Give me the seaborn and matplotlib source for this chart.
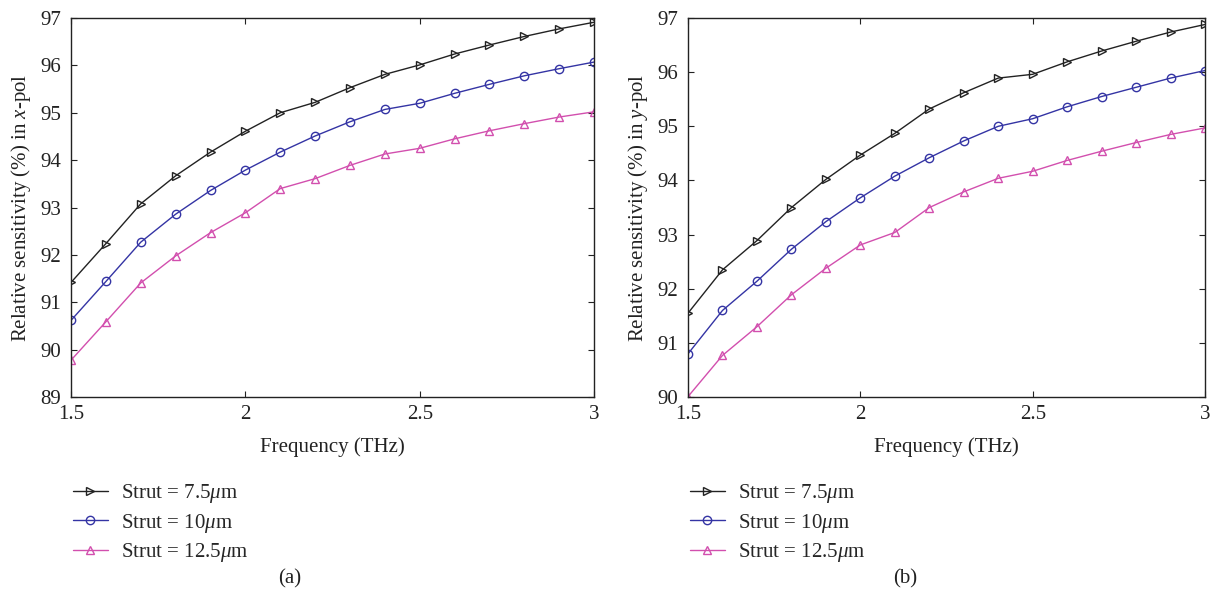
import numpy as np
import pandas as pd
import matplotlib
matplotlib.use("Agg")
import matplotlib.pyplot as plt
import seaborn as sns

freq = [1.5, 1.6, 1.7, 1.8, 1.9, 2.0, 2.1, 2.2, 2.3, 2.4, 2.5, 2.6, 2.7, 2.8, 2.9, 3.0]

# (a) x-pol
xpol_75 = [91.42, 92.24, 93.08, 93.67, 94.17, 94.61, 95.00, 95.22, 95.53, 95.81, 96.01, 96.24, 96.43, 96.61, 96.77, 96.91]
xpol_10 = [90.62, 91.44, 92.27, 92.86, 93.36, 93.79, 94.17, 94.51, 94.81, 95.07, 95.20, 95.41, 95.60, 95.78, 95.93, 96.07]
xpol_125 = [89.78, 90.59, 91.41, 91.98, 92.47, 92.89, 93.40, 93.61, 93.89, 94.13, 94.25, 94.45, 94.62, 94.77, 94.91, 95.02]

# (b) y-pol
ypol_75 = [91.55, 92.35, 92.89, 93.50, 94.02, 94.47, 94.87, 95.32, 95.62, 95.89, 95.96, 96.19, 96.39, 96.57, 96.74, 96.88]
ypol_10 = [90.80, 91.60, 92.14, 92.73, 93.24, 93.68, 94.08, 94.42, 94.73, 95.00, 95.14, 95.36, 95.55, 95.72, 95.89, 96.03]
ypol_125 = [90.01, 90.77, 91.30, 91.89, 92.38, 92.81, 93.04, 93.50, 93.79, 94.04, 94.17, 94.37, 94.54, 94.70, 94.85, 94.97]

labels = ["Strut = 7.5$\\mu$m", "Strut = 10$\\mu$m", "Strut = 12.5$\\mu$m"]
xticks = [1.5, 2, 2.5, 3]
xtick_labels = ["1.5", "2", "2.5", "3"]

sns.set_theme(style="ticks")
plt.rcParams["font.family"] = ["Liberation Serif", "DejaVu Serif"]
plt.rcParams["mathtext.fontset"] = "custom"
plt.rcParams["mathtext.rm"] = "Liberation Serif"
plt.rcParams["mathtext.it"] = "Liberation Serif:italic"

colors = ["#222222", "#3434a4", "#d24fae"]
markers = [">", "o", "^"]

fig = plt.figure(figsize=(12.10, 5.99), dpi=100)
axA = fig.add_axes([0.0587, 0.337, 0.4323, 0.633])
axB = fig.add_axes([0.5686, 0.337, 0.4273, 0.633])

panels = [
    (axA, [xpol_75, xpol_10, xpol_125], (89, 97), "Relative sensitivity (%) in $x$-pol", "(a)", 290),
    (axB, [ypol_75, ypol_10, ypol_125], (90, 97), "Relative sensitivity (%) in $y$-pol", "(b)", 905),
]

for ax, series, ylim, ylab, cap, capx in panels:
    for vals, c, m, lab in zip(series, colors, markers, labels):
        sns.lineplot(x=freq, y=vals, ax=ax, color=c, marker=m, markersize=6,
                     markerfacecolor="none", markeredgecolor=c, markeredgewidth=1.0,
                     linewidth=1.0, label=lab)
    ax.set_xlim(1.5, 3)
    ax.set_ylim(*ylim)
    ax.set_xticks(xticks)
    ax.set_xticklabels(xtick_labels)
    ax.set_yticks(np.arange(ylim[0], ylim[1] + 1, 1))
    ax.tick_params(direction="in", top=True, right=True, labelsize=15, length=4,
                   width=0.8, colors="#222222", pad=6)
    ax.tick_params(axis="y", pad=7)
    for s in ax.spines.values():
        s.set_linewidth(1.0)
        s.set_color("#222222")
    ax.set_xlabel("Frequency (THz)", fontsize=15, labelpad=9, color="#222222")
    ax.set_ylabel(ylab, fontsize=15, labelpad=5, color="#222222")
    ax.legend(loc="upper left", bbox_to_anchor=(-0.013, -0.203), frameon=False,
              fontsize=15, handlelength=1.7, handletextpad=0.63, labelspacing=0.3,
              borderaxespad=0)
    fig.text(capx / 1210, 1 - 579 / 599, cap, ha="center", va="center",
             fontsize=15, color="#222222")

fig.savefig("out.png", dpi=100)
